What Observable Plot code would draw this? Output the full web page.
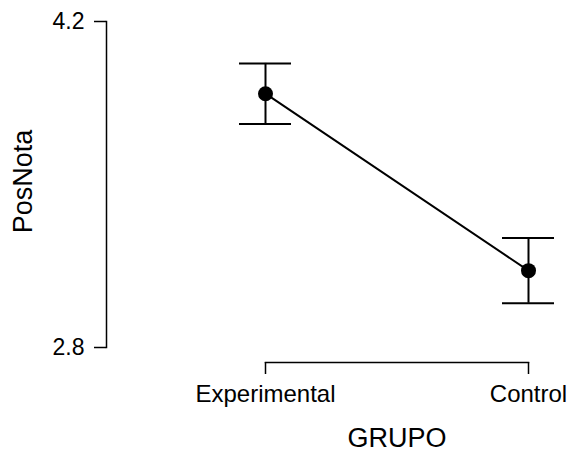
<!DOCTYPE html>
<html>
<head>
<meta charset="utf-8">
<script src="https://cdn.jsdelivr.net/npm/d3@7"></script>
<script src="https://cdn.jsdelivr.net/npm/@observablehq/plot@0.6"></script>
<style>
  html, body { margin: 0; padding: 0; background: white; }
</style>
</head>
<body>
<div id="chart"></div>
<script>
const categories = ["Experimental", "Control"];
const means = [3.89, 3.13];
const lower = [3.76, 2.99];
const upper = [4.02, 3.27];
const yTicks = [2.8, 4.2];
const xTitle = "GRUPO";
const yTitle = "PosNota";

const data = categories.map((c, i) => ({pos: i + 1, group: c, mean: means[i], lo: lower[i], hi: upper[i]}));
const midX = (1 + categories.length) / 2;
const midY = (yTicks[0] + yTicks[yTicks.length - 1]) / 2;

const chart = Plot.plot({
  width: 569,
  height: 451,
  marginTop: 21,
  marginLeft: 106,
  marginRight: 41,
  marginBottom: 89,
  style: {fontFamily: "'Liberation Sans', Arial, sans-serif", fontSize: "23px", background: "white", color: "black", overflow: "visible"},
  x: {domain: [1, categories.length], range: [265, 528]},
  y: {domain: [yTicks[0], yTicks[yTicks.length - 1]], range: [347, 21]},
  marks: [
    Plot.frame({anchor: "left", insetBottom: 15, strokeWidth: 1.5}),
    Plot.frame({anchor: "bottom", insetLeft: 159, strokeWidth: 1.5}),
    Plot.axisY(yTicks, {tickSize: 12, tickPadding: 10, strokeWidth: 1.5, fontSize: 23, tickFormat: d => d.toFixed(1), label: null}),
    Plot.axisX(data.map(d => d.pos), {tickSize: 12, tickPadding: 10, strokeWidth: 1.5, fontSize: 24,
      tickFormat: d => categories[d - 1], label: null}),
    Plot.text([xTitle], {x: () => midX, frameAnchor: "bottom", dy: 76, fontSize: 27, lineAnchor: "middle", text: d => d}),
    Plot.text([yTitle], {y: () => midY, frameAnchor: "left", textAnchor: "middle", dx: -83, dy: -3, rotate: -90, fontSize: 27, lineAnchor: "middle", text: d => d}),
    Plot.ruleX(data, {x: "pos", y1: "lo", y2: "hi", strokeWidth: 2}),
    Plot.ruleY(data, {x1: "pos", x2: "pos", y: "hi", insetLeft: -26, insetRight: -26, strokeWidth: 2}),
    Plot.ruleY(data, {x1: "pos", x2: "pos", y: "lo", insetLeft: -26, insetRight: -26, strokeWidth: 2}),
    Plot.line(data, {x: "pos", y: "mean", strokeWidth: 2}),
    Plot.dot(data, {x: "pos", y: "mean", r: 7.5, fill: "black", stroke: "none"})
  ]
});
document.getElementById("chart").appendChild(chart);
</script>
</body>
</html>
